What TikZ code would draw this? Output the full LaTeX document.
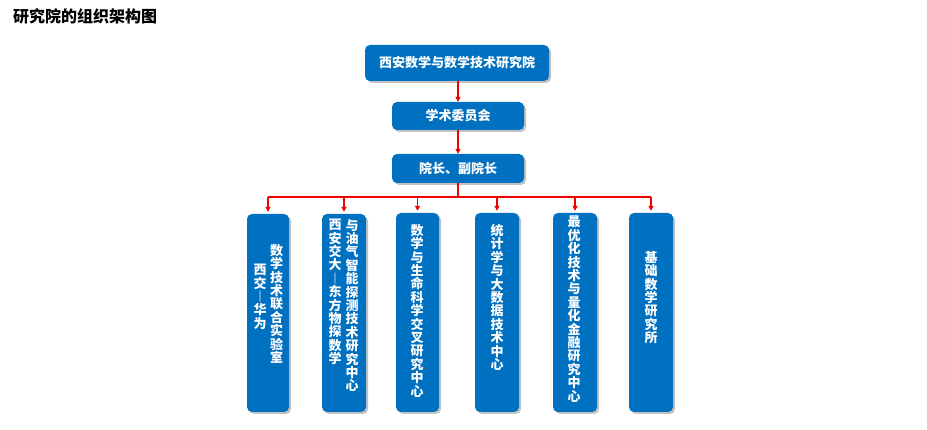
\documentclass[tikz,border=0pt]{standalone}
\usepackage{fontspec}
\newfontfamily\cjk{Noto Sans CJK SC}
\usetikzlibrary{shadows,arrows.meta}
\definecolor{boxblue}{RGB}{0,112,192}
\definecolor{linered}{RGB}{240,0,0}
\tikzset{
  orgbox/.style={draw=none, fill=boxblue, rounded corners=5pt, inner sep=0pt,
    drop shadow={shadow xshift=2pt, shadow yshift=-2pt, fill=black!40, opacity=0.6}},
  boxtext/.style={text=white, font=\cjk\bfseries\fontsize{13}{14}\selectfont, inner sep=0pt},
  vtext/.style={text=white, font=\cjk\bfseries\fontsize{13}{13.4}\selectfont, inner sep=0pt, align=center, anchor=north},
  link/.style={draw=linered, line width=1.1pt, -{Triangle[length=5pt,width=5pt]}},
  plain/.style={draw=linered, line width=1.1pt}
}
\begin{document}
\begin{tikzpicture}[x=1pt,y=-1pt]
\useasboundingbox (0,0) rectangle (927,430);
\node[anchor=west, font=\cjk\bfseries\fontsize{16}{17}\selectfont, inner sep=0pt] (title) at (13,16) {研究院的组织架构图};

% top boxes
\node[orgbox, minimum width=184pt, minimum height=36pt] (top) at (457,63) {};
\node[boxtext] (toptext) at (top.center) {西安数学与数学技术研究院};
\node[orgbox, minimum width=132pt, minimum height=28pt] (acad) at (458,116) {};
\node[boxtext] (acadtext) at (acad.center) {学术委员会};
\node[orgbox, minimum width=132pt, minimum height=29pt] (dean) at (458,168.5) {};
\node[boxtext] (deantext) at (dean.center) {院长、副院长};

\draw[link] (top.south -| acad.north) -- (acad.north);
\draw[link] (acad.south) -- (dean.north);

% bottom boxes
\node[orgbox, minimum width=42pt, minimum height=198pt] (b1) at (268,313) {};
\node[orgbox, minimum width=44pt, minimum height=198pt] (b2) at (344,313) {};
\node[orgbox, minimum width=43pt, minimum height=199pt] (b3) at (417.5,312.5) {};
\node[orgbox, minimum width=44pt, minimum height=199pt] (b4) at (497,312.5) {};
\node[orgbox, minimum width=44pt, minimum height=199pt] (b5) at (575,312.5) {};
\node[orgbox, minimum width=44pt, minimum height=199pt] (b6) at (651,312.5) {};

\coordinate (hub) at (458,197);
\coordinate (hl) at (268,197);
\coordinate (hr) at (651,197);
\draw[plain] (dean.south) -- (hub);
\draw[plain] (hl) -- (hr);
\foreach \b in {b1,b2,b3,b4,b5,b6}{
  \draw[link] (hl -| \b.north) -- ([yshift=2pt]\b.north);
}

% vertical texts
\node[vtext] (t1a) at (276.5,244) {数\\学\\技\\术\\联\\合\\实\\验\\室};
\node[vtext] (t1b) at (260,264) {西\\交\\︱\\华\\为};
\node[vtext] (t2a) at (352,219) {与\\油\\气\\智\\能\\探\\测\\技\\术\\研\\究\\中\\心};
\node[vtext] (t2b) at (335,219) {西\\安\\交\\大\\︱\\东\\方\\物\\探\\数\\学};
\node[vtext] (t3) at (417,224) {数\\学\\与\\生\\命\\科\\学\\交\\叉\\研\\究\\中\\心};
\node[vtext] (t4) at (497,224) {统\\计\\学\\与\\大\\数\\据\\技\\术\\中\\心};
\node[vtext] (t5) at (574,216) {最\\优\\化\\技\\术\\与\\量\\化\\金\\融\\研\\究\\中\\心};
\node[vtext] (t6) at (651,251) {基\\础\\数\\学\\研\\究\\所};
\end{tikzpicture}
\end{document}
